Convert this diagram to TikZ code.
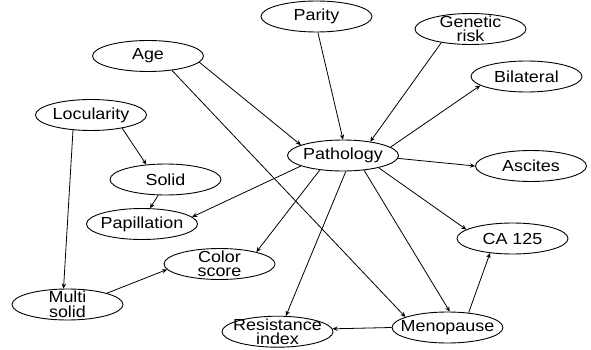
\documentclass[tikz,border=0pt]{standalone}
\usepackage{fontspec}
\setmainfont[FakeStretch=1.12]{Liberation Sans}
\usetikzlibrary{shapes.geometric,arrows.meta}
\begin{document}
\begin{tikzpicture}[x=1pt,y=-1pt,
  var/.style={ellipse,draw,line width=0.9pt,minimum width=111pt,minimum height=31pt,
    inner xsep=-14pt,inner ysep=-8pt,align=center,font=\fontsize{16}{14.5}\selectfont},
  link/.style={draw,line width=0.8pt,-{Stealth[length=5pt,width=4.5pt]}}]
\useasboundingbox (0,0) rectangle (591,350);
\node[var] (parity) at (316.5,16.5) {Parity};
\node[var] (genetic) at (470.5,29) {Genetic\\risk};
\node[var] (bilateral) at (526.5,76.5) {Bilateral};
\node[var] (age) at (148,56) {Age};
\node[var] (locularity) at (91,115) {Locularity};
\node[var] (pathology) at (343,155.5) {Pathology};
\node[var] (ascites) at (531,166) {Ascites};
\node[var] (solid) at (165.5,179.5) {Solid};
\node[var] (papillation) at (142,224) {Papillation};
\node[var] (ca) at (512.5,238.5) {CA 125};
\node[var] (color) at (219.5,264) {Color\\score};
\node[var] (multi) at (67.5,304.5) {Multi\\solid};
\node[var] (menopause) at (447.5,327.5) {Menopause};
\node[var] (resistance) at (277.5,331.7) {Resistance\\index};

\path[link] (parity.-85) -- (pathology.90);
\path[link] (genetic.205) -- (pathology.27);
\path[link] (age.-7) -- (pathology.166);
\path[link] (age.-31) -- (menopause.166);
\path[link] (pathology.10) -- (bilateral.191);
\path[link] (pathology.-3) -- (ascites.180);
\path[link] (pathology.-19) -- (ca.169);
\path[link] (pathology.-35) -- (menopause.82);
\path[link] (pathology.-80) -- (resistance.62);
\path[link] (pathology.212) -- (color.18);
\path[link] (pathology.194) -- (papillation.8);
\path[link] (locularity.-23) -- (solid.142);
\path[link] (locularity.220) -- (multi.104);
\path[link] (solid.-115) -- (papillation.63);
\path[link] (multi.16) -- (color.186);
\path[link] (menopause.180) -- (resistance.3);
\path[link] (menopause.35) -- (ca.213);
\end{tikzpicture}
\end{document}
